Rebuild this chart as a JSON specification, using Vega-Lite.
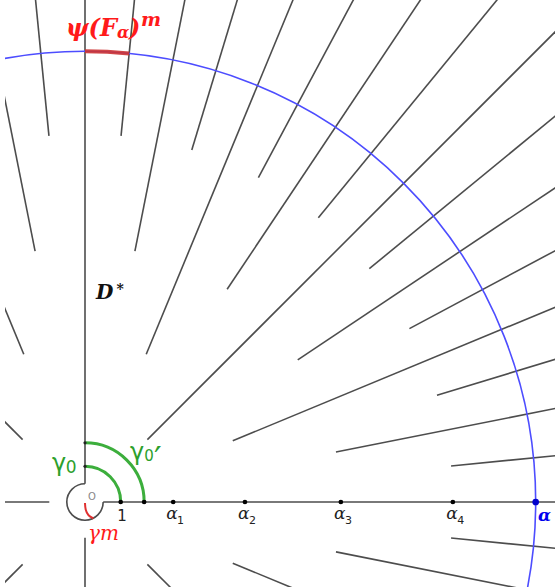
{
  "$schema": "https://vega.github.io/schema/vega-lite/v6.json",
  "width": 550,
  "height": 587,
  "autosize": {"type": "none"},
  "padding": {"left": 5, "right": 0, "top": 0, "bottom": 0},
  "background": "white",
  "config": {"view": {"stroke": null}},
  "layer": [
    {
      "data": {"values": [
        {"x": 10.459, "y": 1.030, "x2": 24.880, "y2": 2.450},
        {"x": 7.170, "y": 1.426, "x2": 24.520, "y2": 4.877},
        {"x": 10.057, "y": 3.051, "x2": 23.924, "y2": 7.257},
        {"x": 4.222, "y": 1.749, "x2": 23.097, "y2": 9.567},
        {"x": 9.269, "y": 4.954, "x2": 22.048, "y2": 11.785},
        {"x": 6.078, "y": 4.061, "x2": 20.787, "y2": 13.889},
        {"x": 8.124, "y": 6.667, "x2": 19.325, "y2": 15.860},
        {"x": 1.782, "y": 1.782, "x2": 17.678, "y2": 17.678},
        {"x": 6.667, "y": 8.124, "x2": 15.860, "y2": 19.325},
        {"x": 4.061, "y": 6.078, "x2": 13.889, "y2": 20.787},
        {"x": 4.954, "y": 9.269, "x2": 11.785, "y2": 22.048},
        {"x": 1.749, "y": 4.222, "x2": 9.567, "y2": 23.097},
        {"x": 3.051, "y": 10.057, "x2": 7.257, "y2": 23.924},
        {"x": 1.426, "y": 7.170, "x2": 4.877, "y2": 24.520},
        {"x": 1.030, "y": 10.459, "x2": 2.450, "y2": 24.880},
        {"x": -1.030, "y": 10.459, "x2": -2.450, "y2": 24.880},
        {"x": -1.426, "y": 7.170, "x2": -4.877, "y2": 24.520},
        {"x": -1.749, "y": 4.222, "x2": -9.567, "y2": 23.097},
        {"x": -1.782, "y": 1.782, "x2": -17.678, "y2": 17.678},
        {"x": -1.02, "y": 0, "x2": -25, "y2": 0},
        {"x": -1.782, "y": -1.782, "x2": -17.678, "y2": -17.678},
        {"x": 0, "y": -1.02, "x2": 0, "y2": -25},
        {"x": 10.459, "y": -1.030, "x2": 24.880, "y2": -2.450},
        {"x": 7.170, "y": -1.426, "x2": 24.520, "y2": -4.877},
        {"x": 4.222, "y": -1.749, "x2": 23.097, "y2": -9.567},
        {"x": 1.782, "y": -1.782, "x2": 17.678, "y2": -17.678},
        {"x": 0, "y": 0.52, "x2": 0, "y2": 25},
        {"x": 0.52, "y": 0, "x2": 25, "y2": 0}
      ]},
      "mark": {"type": "rule", "color": "#4d4d4d", "strokeWidth": 1.6, "clip": true},
      "encoding": {
        "x": {"field": "x", "type": "quantitative", "axis": null, "scale": {"domain": [-2.2857, 13.4286], "nice": false, "zero": false}},
        "y": {"field": "y", "type": "quantitative", "axis": null, "scale": {"domain": [-2.4286, 14.3429], "nice": false, "zero": false}},
        "x2": {"field": "x2"},
        "y2": {"field": "y2"}
      }
    },
    {
      "data": {"values": [{"t1": 0, "t2": 360, "r": 12.877}]},
      "mark": {"type": "arc", "filled": false, "stroke": "#4d4dff", "strokeWidth": 1.6, "clip": true},
      "encoding": {
        "x": {"datum": 0, "type": "quantitative"},
        "y": {"datum": 0, "type": "quantitative"},
        "theta": {"field": "t1", "type": "quantitative", "stack": null, "scale": {"domain": [0, 360]}},
        "theta2": {"field": "t2"},
        "radius": {"field": "r", "type": "quantitative", "scale": {"type": "linear", "domain": [0, 10], "range": [0, 350], "zero": true}},
        "radius2": {"field": "r"}
      }
    },
    {
      "data": {"values": [{"t1": 0, "t2": 5.625, "r": 12.877}]},
      "mark": {"type": "arc", "filled": false, "stroke": "#cc3333", "strokeOpacity": 0.9, "strokeWidth": 4, "clip": true},
      "encoding": {
        "x": {"datum": 0, "type": "quantitative"},
        "y": {"datum": 0, "type": "quantitative"},
        "theta": {"field": "t1", "type": "quantitative", "stack": null, "scale": {"domain": [0, 360]}},
        "theta2": {"field": "t2"},
        "radius": {"field": "r", "type": "quantitative", "scale": {"type": "linear", "domain": [0, 10], "range": [0, 350], "zero": true}},
        "radius2": {"field": "r"}
      }
    },
    {
      "data": {"values": [{"t1": 0, "t2": 90, "r": 1.02}, {"t1": 0, "t2": 90, "r": 1.69}]},
      "mark": {"type": "arc", "filled": false, "stroke": "#3cae3c", "strokeWidth": 3, "clip": true},
      "encoding": {
        "x": {"datum": 0, "type": "quantitative"},
        "y": {"datum": 0, "type": "quantitative"},
        "theta": {"field": "t1", "type": "quantitative", "stack": null, "scale": {"domain": [0, 360]}},
        "theta2": {"field": "t2"},
        "radius": {"field": "r", "type": "quantitative", "scale": {"type": "linear", "domain": [0, 10], "range": [0, 350], "zero": true}},
        "radius2": {"field": "r"}
      }
    },
    {
      "data": {"values": [{"t1": 90, "t2": 360, "r": 0.52}]},
      "mark": {"type": "arc", "filled": false, "stroke": "#4d4d4d", "strokeWidth": 1.6, "clip": true},
      "encoding": {
        "x": {"datum": 0, "type": "quantitative"},
        "y": {"datum": 0, "type": "quantitative"},
        "theta": {"field": "t1", "type": "quantitative", "stack": null, "scale": {"domain": [0, 360]}},
        "theta2": {"field": "t2"},
        "radius": {"field": "r", "type": "quantitative", "scale": {"type": "linear", "domain": [0, 10], "range": [0, 350], "zero": true}},
        "radius2": {"field": "r"}
      }
    },
    {
      "data": {"values": [
        {"i": 0, "x": 0.0, "y": -0.03},
        {"i": 1, "x": 0.01, "y": -0.23},
        {"i": 2, "x": 0.09, "y": -0.39},
        {"i": 3, "x": 0.24, "y": -0.47}
      ]},
      "mark": {"type": "line", "color": "#e03030", "strokeWidth": 2, "interpolate": "basis"},
      "encoding": {
        "x": {"field": "x", "type": "quantitative"},
        "y": {"field": "y", "type": "quantitative"},
        "order": {"field": "i"}
      }
    },
    {
      "data": {"values": [
        {"x": 1.02, "y": 0}, {"x": 1.69, "y": 0}, {"x": 2.52, "y": 0},
        {"x": 4.57, "y": 0}, {"x": 7.31, "y": 0}, {"x": 10.51, "y": 0}
      ]},
      "mark": {"type": "point", "filled": true, "color": "black", "size": 22, "opacity": 1},
      "encoding": {
        "x": {"field": "x", "type": "quantitative"},
        "y": {"field": "y", "type": "quantitative"}
      }
    },
    {
      "data": {"values": [{"x": 0, "y": 1.02}, {"x": 0, "y": 1.69}]},
      "mark": {"type": "point", "filled": true, "color": "#222", "size": 10, "opacity": 1},
      "encoding": {
        "x": {"field": "x", "type": "quantitative"},
        "y": {"field": "y", "type": "quantitative"}
      }
    },
    {
      "data": {"values": [{"x": 12.877, "y": 0}]},
      "mark": {"type": "point", "filled": true, "color": "#0000cc", "size": 45, "opacity": 1},
      "encoding": {
        "x": {"field": "x", "type": "quantitative"},
        "y": {"field": "y", "type": "quantitative"}
      }
    },
    {
      "data": {"values": [{"x": 1.057, "y": -0.543, "t": "1"}]},
      "mark": {"type": "text", "font": "DejaVu Sans", "fontSize": 15, "color": "#222", "align": "center", "baseline": "alphabetic"},
      "encoding": {"x": {"field": "x", "type": "quantitative"}, "y": {"field": "y", "type": "quantitative"}, "text": {"field": "t"}}
    },
    {
      "data": {"values": [
        {"x": 2.323, "y": -0.486, "t": "α"},
        {"x": 4.371, "y": -0.486, "t": "α"},
        {"x": 7.114, "y": -0.486, "t": "α"},
        {"x": 10.323, "y": -0.486, "t": "α"}
      ]},
      "mark": {"type": "text", "font": "DejaVu Serif", "fontSize": 17, "fontStyle": "italic", "color": "#222", "align": "left", "baseline": "alphabetic"},
      "encoding": {"x": {"field": "x", "type": "quantitative"}, "y": {"field": "y", "type": "quantitative"}, "text": {"field": "t"}}
    },
    {
      "data": {"values": [
        {"x": 2.629, "y": -0.629, "t": "1"},
        {"x": 4.686, "y": -0.629, "t": "2"},
        {"x": 7.429, "y": -0.629, "t": "3"},
        {"x": 10.637, "y": -0.629, "t": "4"}
      ]},
      "mark": {"type": "text", "font": "DejaVu Sans", "fontSize": 11, "color": "#222", "align": "left", "baseline": "alphabetic"},
      "encoding": {"x": {"field": "x", "type": "quantitative"}, "y": {"field": "y", "type": "quantitative"}, "text": {"field": "t"}}
    },
    {
      "data": {"values": [{"x": 12.943, "y": -0.543, "t": "α"}]},
      "mark": {"type": "text", "font": "DejaVu Serif", "fontSize": 17, "fontStyle": "italic", "fontWeight": "bold", "color": "#0000ee", "align": "left", "baseline": "alphabetic"},
      "encoding": {"x": {"field": "x", "type": "quantitative"}, "y": {"field": "y", "type": "quantitative"}, "text": {"field": "t"}}
    },
    {
      "data": {"values": [{"x": 0.2, "y": 0.143, "t": "O"}]},
      "mark": {"type": "text", "font": "DejaVu Sans", "fontSize": 10, "color": "#888", "align": "center", "baseline": "middle"},
      "encoding": {"x": {"field": "x", "type": "quantitative"}, "y": {"field": "y", "type": "quantitative"}, "text": {"field": "t"}}
    },
    {
      "data": {"values": [{"x": -0.943, "y": 0.886, "t": "γ"}, {"x": 1.286, "y": 1.209, "t": "γ"}]},
      "mark": {"type": "text", "font": "DejaVu Sans", "fontSize": 24, "color": "#2ca02c", "align": "left", "baseline": "alphabetic"},
      "encoding": {"x": {"field": "x", "type": "quantitative"}, "y": {"field": "y", "type": "quantitative"}, "text": {"field": "t"}}
    },
    {
      "data": {"values": [{"x": -0.551, "y": 0.82, "t": "0"}]},
      "mark": {"type": "text", "font": "DejaVu Sans", "fontSize": 17, "color": "#2ca02c", "align": "left", "baseline": "alphabetic"},
      "encoding": {"x": {"field": "x", "type": "quantitative"}, "y": {"field": "y", "type": "quantitative"}, "text": {"field": "t"}}
    },
    {
      "data": {"values": [{"x": 1.69, "y": 1.171, "t": "0"}]},
      "mark": {"type": "text", "font": "DejaVu Sans", "fontSize": 15, "color": "#2ca02c", "align": "left", "baseline": "alphabetic"},
      "encoding": {"x": {"field": "x", "type": "quantitative"}, "y": {"field": "y", "type": "quantitative"}, "text": {"field": "t"}}
    },
    {
      "data": {"values": [{"x": 1.971, "y": 0.886, "t": "′"}]},
      "mark": {"type": "text", "font": "DejaVu Sans", "fontSize": 34, "color": "#2ca02c", "align": "left", "baseline": "alphabetic"},
      "encoding": {"x": {"field": "x", "type": "quantitative"}, "y": {"field": "y", "type": "quantitative"}, "text": {"field": "t"}}
    },
    {
      "data": {"values": [{"x": 0.086, "y": -1.086, "t": "γm"}]},
      "mark": {"type": "text", "font": "DejaVu Serif", "fontSize": 20, "fontStyle": "italic", "color": "#ff1a1a", "align": "left", "baseline": "alphabetic"},
      "encoding": {"x": {"field": "x", "type": "quantitative"}, "y": {"field": "y", "type": "quantitative"}, "text": {"field": "t"}}
    },
    {
      "data": {"values": [{"x": 0.314, "y": 5.791, "t": "D"}]},
      "mark": {"type": "text", "font": "DejaVu Serif", "fontSize": 20, "fontStyle": "italic", "fontWeight": "bold", "color": "#111", "align": "left", "baseline": "alphabetic"},
      "encoding": {"x": {"field": "x", "type": "quantitative"}, "y": {"field": "y", "type": "quantitative"}, "text": {"field": "t"}}
    },
    {
      "data": {"values": [{"x": 0.9, "y": 5.943, "t": "*"}]},
      "mark": {"type": "text", "font": "DejaVu Serif", "fontSize": 14, "fontWeight": "bold", "color": "#111", "align": "left", "baseline": "alphabetic"},
      "encoding": {"x": {"field": "x", "type": "quantitative"}, "y": {"field": "y", "type": "quantitative"}, "text": {"field": "t"}}
    },
    {
      "data": {"values": [{"x": -0.543, "y": 13.314, "t": "ψ(F"}, {"x": 1.257, "y": 13.314, "t": ")"}]},
      "mark": {"type": "text", "font": "DejaVu Serif", "fontSize": 24, "fontStyle": "italic", "fontWeight": "bold", "color": "#ff1a1a", "align": "left", "baseline": "alphabetic"},
      "encoding": {"x": {"field": "x", "type": "quantitative"}, "y": {"field": "y", "type": "quantitative"}, "text": {"field": "t"}}
    },
    {
      "data": {"values": [{"x": 0.914, "y": 13.249, "t": "α"}]},
      "mark": {"type": "text", "font": "DejaVu Serif", "fontSize": 16, "fontStyle": "italic", "fontWeight": "bold", "color": "#ff1a1a", "align": "left", "baseline": "alphabetic"},
      "encoding": {"x": {"field": "x", "type": "quantitative"}, "y": {"field": "y", "type": "quantitative"}, "text": {"field": "t"}}
    },
    {
      "data": {"values": [{"x": 1.6, "y": 13.609, "t": "m"}]},
      "mark": {"type": "text", "font": "DejaVu Serif", "fontSize": 19, "fontStyle": "italic", "fontWeight": "bold", "color": "#ff1a1a", "align": "left", "baseline": "alphabetic"},
      "encoding": {"x": {"field": "x", "type": "quantitative"}, "y": {"field": "y", "type": "quantitative"}, "text": {"field": "t"}}
    }
  ]
}
